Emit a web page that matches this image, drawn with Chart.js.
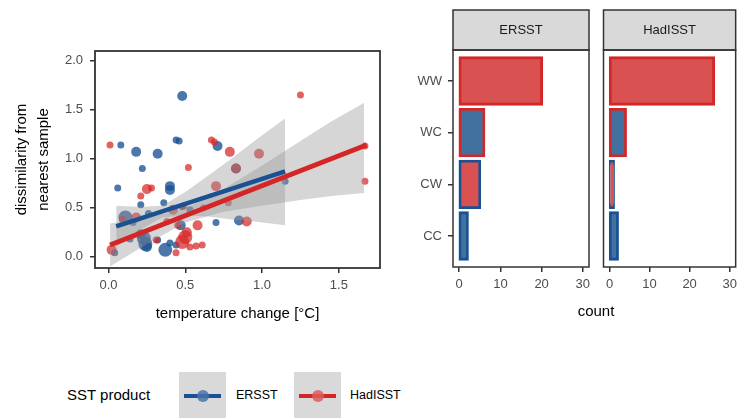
<!DOCTYPE html>
<html>
<head>
<meta charset="utf-8">
<script src="https://cdn.jsdelivr.net/npm/chart.js@4.4.1/dist/chart.umd.min.js"></script>
<style>
  body { margin: 0; width: 742px; height: 419px; background: #fff; position: relative; overflow: hidden;
         font-family: "Liberation Sans", Arial, sans-serif; color: #000; }
  canvas { position: absolute; }
  .lbl { position: absolute; white-space: nowrap; }
  .key { position: absolute; top: 372px; width: 47px; height: 46px; background: #d9d9d9; }
  .key .ln { position: absolute; left: 5px; top: 22px; width: 37px; height: 4px; }
  .key .dot { position: absolute; left: 18px; top: 18px; width: 12px; height: 12px; border-radius: 50%; }
</style>
</head>
<body>
<canvas id="scatter" width="390" height="330" style="left:0;top:0"></canvas>
<canvas id="barE" width="206" height="330" style="left:390px;top:0"></canvas>
<canvas id="barH" width="146" height="330" style="left:596px;top:0"></canvas>

<div class="lbl" style="left:596px;top:302px;font-size:15px;transform:translateX(-50%)">count</div>

<div class="lbl" style="left:67px;top:386px;font-size:15px">SST product</div>
<div class="key" style="left:179px"><div class="ln" style="background:#1a5194"></div><div class="dot" style="background:rgba(70,115,170,0.85)"></div></div>
<div class="lbl" style="left:236px;top:388px;font-size:12.5px">ERSST</div>
<div class="key" style="left:294px"><div class="ln" style="background:#d42626"></div><div class="dot" style="background:rgba(222,90,90,0.85)"></div></div>
<div class="lbl" style="left:350px;top:388px;font-size:12.5px">HadISST</div>

<script>
// --- scatter: temperature change vs dissimilarity ---
const ersstX = [0.48, 0.08, 0.18, 0.32, 0.44, 0.46, 0.71, 0.22, 0.83, 0.06, 0.40, 0.40, 0.21, 0.36, 0.11, 0.16, 0.47,
                0.70, 0.85, 1.15, 0.23, 0.24, 0.25, 0.14, 0.37, 0.04, 0.40, 0.44, 0.32, 0.21, 0.48, 0.26, 0.53];
const ersstY = [1.64, 1.14, 1.07, 1.05, 1.19, 1.18, 1.13, 0.90, 0.90, 0.70, 0.72, 0.68, 0.53, 0.55, 0.40, 0.35, 0.32,
                0.35, 0.37, 0.77, 0.19, 0.13, 0.10, 0.18, 0.07, 0.04, 0.14, 0.12, 0.17, 0.23, 0.51, 0.44, 0.48];
const ersstSize = [2, 1, 2, 2, 1, 1, 2, 1, 2, 1, 2, 2, 1, 1, 3, 1, 2,
                   1, 2, 1, 3, 3, 2, 1, 3, 1, 1, 1, 1, 2, 1, 1, 1];

const hadX = [1.25, 0.01, 0.67, 0.69, 0.79, 0.98, 0.52, 0.83, 1.67, 1.67, 0.25, 0.28, 0.21, 0.70, 0.78, 0.18, 0.58,
              0.90, 0.02, 0.31, 0.50, 0.48, 0.53, 0.61, 0.57, 0.44, 0.42, 0.49, 0.38, 0.45, 0.62, 0.09, 0.51];
const hadY = [1.65, 1.14, 1.19, 1.17, 1.07, 1.05, 0.91, 0.90, 1.13, 0.77, 0.69, 0.70, 0.62, 0.72, 0.55, 0.40, 0.32,
              0.36, 0.07, 0.17, 0.20, 0.15, 0.10, 0.12, 0.11, 0.04, 0.48, 0.52, 0.36, 0.32, 0.50, 0.38, 0.25];
const hadSize = [1, 1, 1, 1, 2, 2, 1, 2, 1, 1, 2, 1, 1, 2, 1, 2, 2,
                 2, 2, 1, 3, 3, 1, 1, 1, 1, 2, 1, 1, 1, 1, 1, 2];

// fitted lines (end points) and confidence band edges
const ersstFitX = [0.05, 1.15];
const ersstFitY = [0.31, 0.87];
const ersstBandX = [0.05, 0.20, 0.35, 0.50, 0.65, 0.80, 0.95, 1.15];
const ersstBandHi = [0.52, 0.51, 0.52, 0.66, 0.83, 1.00, 1.18, 1.41];
const ersstBandLo = [0.10, 0.27, 0.40, 0.42, 0.41, 0.38, 0.36, 0.32];

const hadFitX = [0.01, 1.68];
const hadFitY = [0.12, 1.14];
const hadBandX = [0.01, 0.25, 0.50, 0.75, 1.00, 1.25, 1.45, 1.665];
const hadBandHi = [0.34, 0.40, 0.49, 0.69, 0.93, 1.18, 1.38, 1.57];
const hadBandLo = [-0.10, 0.13, 0.35, 0.46, 0.52, 0.58, 0.62, 0.65];

const xTicks = [0, 0.5, 1.0, 1.5];
const yTicks = [0, 0.5, 1.0, 1.5, 2.0];

// --- bars: counts per transition class ---
const classes = ['WW', 'WC', 'CW', 'CC'];
const ersstCounts = [20, 6, 5, 2];
const hadCounts = [26, 4, 1, 2];
const countTicks = [0, 10, 20, 30];

const BLUE = '#1a5194', RED = '#d42626';
const BLUE_PT = 'rgba(26,81,148,0.78)', RED_PT = 'rgba(214,38,38,0.72)';
const BLUE_FILL = '#42709f', RED_FILL = '#d95151';
const BAND = 'rgba(153,153,153,0.4)';
const FONT = '"Liberation Sans", Arial, sans-serif';

const zip = (xs, ys) => xs.map((x, i) => ({ x: x, y: ys[i] }));
const radius = s => [0, 3.5, 5, 7][s];

// box round the panel, plus facet strip when asked
const panelBox = {
  id: 'panelBox',
  afterDraw(chart, args, opts) {
    const { ctx, chartArea: a } = chart;
    ctx.save();
    ctx.strokeStyle = '#333';
    ctx.lineWidth = opts.lw || 1.5;
    if (opts.strip) {
      ctx.fillStyle = '#d9d9d9';
      ctx.fillRect(a.left, a.top - 40, a.width, 40);
      ctx.strokeRect(a.left, a.top - 40, a.width, 40);
      ctx.fillStyle = '#1a1a1a';
      ctx.font = '13px ' + FONT;
      ctx.textAlign = 'center';
      ctx.textBaseline = 'middle';
      ctx.fillText(opts.strip, (a.left + a.right) / 2, a.top - 20);
    }
    ctx.strokeRect(a.left, a.top, a.width, a.height);
    ctx.restore();
  }
};

const tickFont = { family: FONT, size: 13 };
const grid = { drawOnChartArea: false, drawTicks: true, tickLength: 5, color: '#333', lineWidth: 1.5, offset: false };

new Chart(document.getElementById('scatter'), {
  type: 'scatter',
  data: {
    datasets: [
      { data: zip(ersstX, ersstY), backgroundColor: BLUE_PT, borderWidth: 0,
        pointRadius: ersstSize.map(radius), order: 4 },
      { data: zip(hadX, hadY), backgroundColor: RED_PT, borderWidth: 0,
        pointRadius: hadSize.map(radius), order: 3 },
      { type: 'line', data: zip(ersstBandX, ersstBandHi), borderWidth: 0, pointRadius: 0,
        fill: '+1', backgroundColor: BAND, order: 2 },
      { type: 'line', data: zip(ersstBandX, ersstBandLo), borderWidth: 0, pointRadius: 0, fill: false, order: 2 },
      { type: 'line', data: zip(hadBandX, hadBandHi), borderWidth: 0, pointRadius: 0,
        fill: '+1', backgroundColor: BAND, order: 2 },
      { type: 'line', data: zip(hadBandX, hadBandLo), borderWidth: 0, pointRadius: 0, fill: false, order: 2 },
      { type: 'line', data: zip(ersstFitX, ersstFitY), borderColor: BLUE, borderWidth: 4.5,
        pointRadius: 0, fill: false, order: 1 },
      { type: 'line', data: zip(hadFitX, hadFitY), borderColor: RED, borderWidth: 5,
        pointRadius: 0, fill: false, order: 0 }
    ]
  },
  options: {
    responsive: false,
    animation: false,
    layout: { padding: { top: 51, right: 10, left: 0, bottom: 0 } },
    plugins: { legend: { display: false }, tooltip: { enabled: false },
               panelBox: { lw: 1.8 } },
    scales: {
      x: {
        type: 'linear', min: -0.088, max: 1.768,
        afterBuildTicks: s => { s.ticks = xTicks.map(v => ({ value: v })); },
        afterFit: s => { s.height = 62; },
        ticks: { color: '#4d4d4d', font: tickFont, padding: 5, maxRotation: 0,
                 callback: v => v.toFixed(1) },
        grid: grid, border: { display: false },
        title: { display: true, text: 'temperature change [°C]', color: '#000',
                 font: { family: FONT, size: 15 }, padding: { top: 0, bottom: 7 } }
      },
      y: {
        type: 'linear', min: -0.115, max: 2.099,
        afterBuildTicks: s => { s.ticks = yTicks.map(v => ({ value: v })); },
        afterFit: s => { s.width = 95; },
        ticks: { color: '#4d4d4d', font: tickFont, padding: 7, callback: v => v.toFixed(1) },
        grid: grid, border: { display: false },
        title: { display: true, text: ['dissimilarity from', 'nearest sample'], color: '#000',
                 font: { family: FONT, size: 15, lineHeight: 1.44 }, padding: { top: 11, bottom: 0 } }
      }
    }
  },
  plugins: [panelBox]
});

function barChart(id, counts, strip, showY, pad) {
  const pos = classes.map((c, i) => classes.length - i);
  return new Chart(document.getElementById(id), {
    type: 'bar',
    data: {
      datasets: [{
        data: counts.map((v, i) => ({ x: v, y: pos[i] })),
        backgroundColor: classes.map(c => c[1] === 'W' ? RED_FILL : BLUE_FILL),
        borderColor: classes.map(c => c[0] === 'W' ? RED : BLUE),
        borderWidth: 2.8,
        borderSkipped: false,
        inflateAmount: 1.4,
        categoryPercentage: 1,
        barPercentage: 0.9
      }]
    },
    options: {
      indexAxis: 'y',
      responsive: false,
      animation: false,
      layout: { padding: pad },
      plugins: { legend: { display: false }, tooltip: { enabled: false }, panelBox: { strip: strip } },
      scales: {
        x: {
          type: 'linear', min: -1.5, max: 31.5, offset: false,
          afterBuildTicks: s => { s.ticks = countTicks.map(v => ({ value: v })); },
          afterFit: s => { s.height = 63; },
          ticks: { color: '#4d4d4d', font: tickFont, padding: 5, maxRotation: 0 },
          grid: grid, border: { display: false }
        },
        y: {
          type: 'linear', min: 0.4, max: 4.6, offset: false, display: showY,
          afterBuildTicks: s => { s.ticks = pos.map(v => ({ value: v })); },
          afterFit: s => { s.width = showY ? 63 : 0; },
          ticks: { color: '#4d4d4d', font: tickFont, padding: 6,
                   callback: v => classes[classes.length - v] },
          grid: grid, border: { display: false }
        }
      }
    },
    plugins: [panelBox]
  });
}

barChart('barE', ersstCounts, 'ERSST', true, { top: 50, right: 7, left: 0, bottom: 0 });
barChart('barH', hadCounts, 'HadISST', false, { top: 50, right: 2.5, left: 7.5, bottom: 0 });
</script>
</body>
</html>
